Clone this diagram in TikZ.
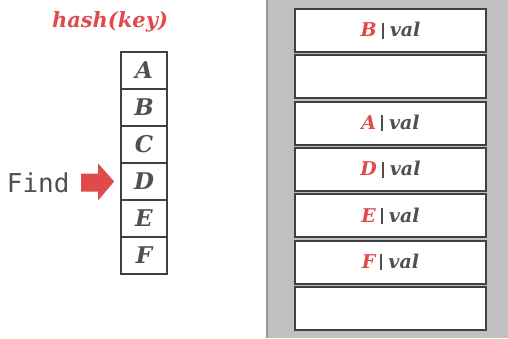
\documentclass[tikz,border=0pt]{standalone}
\usepackage{fontspec}
\newfontfamily\findfont{DejaVu Sans Mono}
\newfontfamily\keyfont{DejaVu Serif}
\definecolor{keyred}{RGB}{222,75,74}
\definecolor{textgray}{RGB}{80,80,80}
\definecolor{boxgray}{RGB}{64,64,64}
\definecolor{panelgray}{RGB}{192,192,192}
\definecolor{edgegray}{RGB}{150,150,150}
\newcommand{\kv}[1]{\textcolor{keyred}{#1}\kern5pt{\color{textgray}\rule[-2pt]{2pt}{16pt}}\kern6pt val}

\begin{document}
\begin{tikzpicture}[x=1pt, y=-1pt,
    slot/.style={draw=boxgray, line width=1.8pt, minimum width=46pt, minimum height=37pt,
        inner sep=0pt, text=textgray, font=\keyfont\fontsize{23}{23}\selectfont\bfseries\itshape},
    entry/.style={draw=boxgray, line width=1.8pt, fill=white, minimum width=191pt,
        minimum height=43pt, inner sep=0pt, text=textgray,
        font=\keyfont\fontsize{19}{19}\selectfont\bfseries\itshape}]
    \useasboundingbox (0,0) rectangle (508,338);

    % Hash index
    \node[text=keyred, font=\keyfont\fontsize{21}{21}\selectfont\bfseries\itshape, anchor=base]
        (hash) at (110,27) {hash(key)};
    \foreach \L [count=\i from 0] in {A,B,C,D,E,F}
        \node[slot] (h\i) at (144,{70.5+37*\i}) {\L};

    % Lookup
    \node[font=\findfont\fontsize{26}{26}\selectfont, text=textgray, anchor=east]
        (find) at (73,183) {Find};
    \coordinate (tip) at ([xshift=-6pt]h3.west);
    \fill[keyred] (tip) -- ++(-16,-18) -- ++(0,10) -- ++(-17,0) -- ++(0,18)
        -- ++(17,0) -- ++(0,9) -- cycle;

% Table pages
\fill[panelgray] (267,0) rectangle (508,338);
\draw[edgegray, line width=1.2pt] (267,0) -- (267,338);
\foreach \t [count=\i from 0] in {\kv{B}, {}, \kv{A}, \kv{D}, \kv{E}, \kv{F}, {}}
    \node[entry] (e\i) at (390.5,{30.5+46.33*\i}) {\t};
\end{tikzpicture}
\end{document}
